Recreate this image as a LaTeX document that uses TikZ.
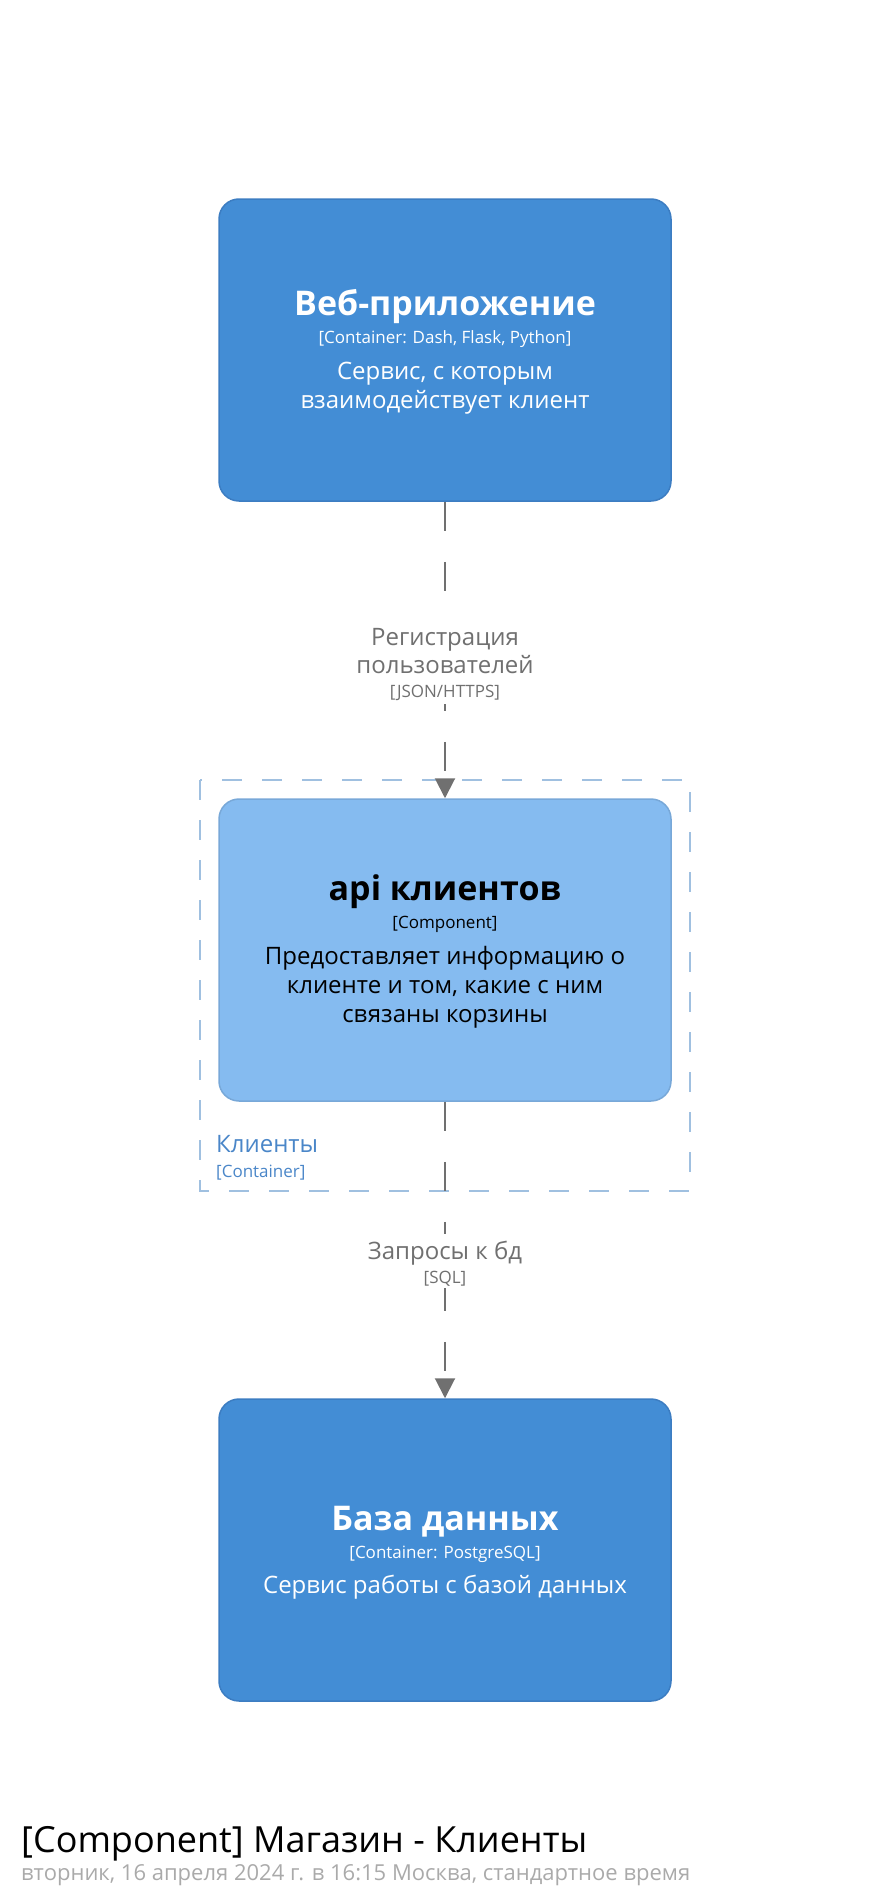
\documentclass[tikz,border=0pt]{standalone}
\usepackage{fontspec}
\setmainfont{Open Sans}
\usetikzlibrary{arrows.meta}
\definecolor{contfill}{HTML}{438DD5}
\definecolor{contdraw}{HTML}{3C7DC2}
\definecolor{compfill}{HTML}{85BBF0}
\definecolor{compdraw}{HTML}{78A8D8}
\definecolor{bnddraw}{HTML}{A0C0E0}
\definecolor{bndtext}{HTML}{4A86C8}
\definecolor{relgrey}{HTML}{707070}
\definecolor{subgrey}{HTML}{AAAAAA}
\tikzset{
  box/.style={rounded corners=20pt, minimum width=452pt, minimum height=302pt, line width=1.5pt, inner sep=0pt},
  contbox/.style={box, fill=contfill, draw=contdraw},
  compbox/.style={box, fill=compfill, draw=compdraw},
  txt/.style={anchor=base, inner sep=0pt},
  nametxt/.style={txt, font=\fontsize{34}{40}\selectfont\bfseries},
  metatxt/.style={txt, font=\fontsize{17}{21}\selectfont},
  desctxt/.style={txt, font=\fontsize{24}{28}\selectfont},
  rel/.style={draw=relgrey, line width=2pt, dash pattern=on 29pt off 31pt, -{Triangle[width=20pt,length=20pt]}},
  relbg/.style={fill=white, inner sep=0pt},
  reltxt/.style={txt, text=relgrey, font=\fontsize{24}{28}\selectfont},
  reltech/.style={txt, text=relgrey, font=\fontsize{17}{20}\selectfont},
}
\begin{document}
\begin{tikzpicture}[x=1pt,y=-1pt]
\useasboundingbox (0,0) rectangle (890,1900);
% boundary
\draw[bnddraw, line width=2pt, dash pattern=on 20pt off 20pt] (200,780) rectangle (690,1191);
\node[txt, anchor=base west, text=bndtext, font=\fontsize{24}{28}\selectfont] (bname) at (216,1152) {Клиенты};
\node[txt, anchor=base west, text=bndtext, font=\fontsize{17}{20}\selectfont] (btech) at (216,1177) {[Container]};
% boxes
\node[contbox] (web) at (445,350) {};
\node[compbox] (api) at (445,950) {};
\node[contbox] (db) at (445,1550) {};
% relations
\draw[rel] (web.south) -- (api.north);
\draw[rel] (api.south) -- (db.north);
\node[relbg, minimum width=180pt, minimum height=86pt] (r1bg) at (445,661) {};
\node[reltxt] (r1a) at (445,645) {Регистрация};
\node[reltxt] (r1b) at (445,673) {пользователей};
\node[reltech] (r1c) at (445,697) {[JSON/HTTPS]};
\node[relbg, minimum width=160pt, minimum height=54pt] (r2bg) at (445,1261) {};
\node[reltxt] (r2a) at (445,1259) {Запросы к бд};
\node[reltech] (r2b) at (445,1283) {[SQL]};
% web text
\node[nametxt, text=white] (webn) at (445,315) {Веб-приложение};
\node[metatxt, text=white] (webm) at (445,343) {[Container: Dash, Flask, Python]};
\node[desctxt, text=white] (webd1) at (445,379) {Сервис, с которым};
\node[desctxt, text=white] (webd2) at (445,408) {взаимодействует клиент};
% api text
\node[nametxt, text=black] (apin) at (445,900) {api клиентов};
\node[metatxt, text=black] (apim) at (445,928) {[Component]};
\node[desctxt, text=black] (apid1) at (445,964) {Предоставляет информацию о};
\node[desctxt, text=black] (apid2) at (445,993) {клиенте и том, какие с ним};
\node[desctxt, text=black] (apid3) at (445,1022) {связаны корзины};
% db text
\node[nametxt, text=white] (dbn) at (445,1530) {База данных};
\node[metatxt, text=white] (dbm) at (445,1558) {[Container: PostgreSQL]};
\node[desctxt, text=white] (dbd) at (445,1593) {Сервис работы с базой данных};
% title
\node[txt, anchor=base west, font=\fontsize{36}{42}\selectfont] (title) at (21,1852) {[Component] Магазин - Клиенты};
\node[txt, anchor=base west, text=subgrey, font=\fontsize{22}{26}\selectfont] (sub) at (21,1880) {вторник, 16 апреля 2024 г. в 16:15 Москва, стандартное время};
\end{tikzpicture}
\end{document}
